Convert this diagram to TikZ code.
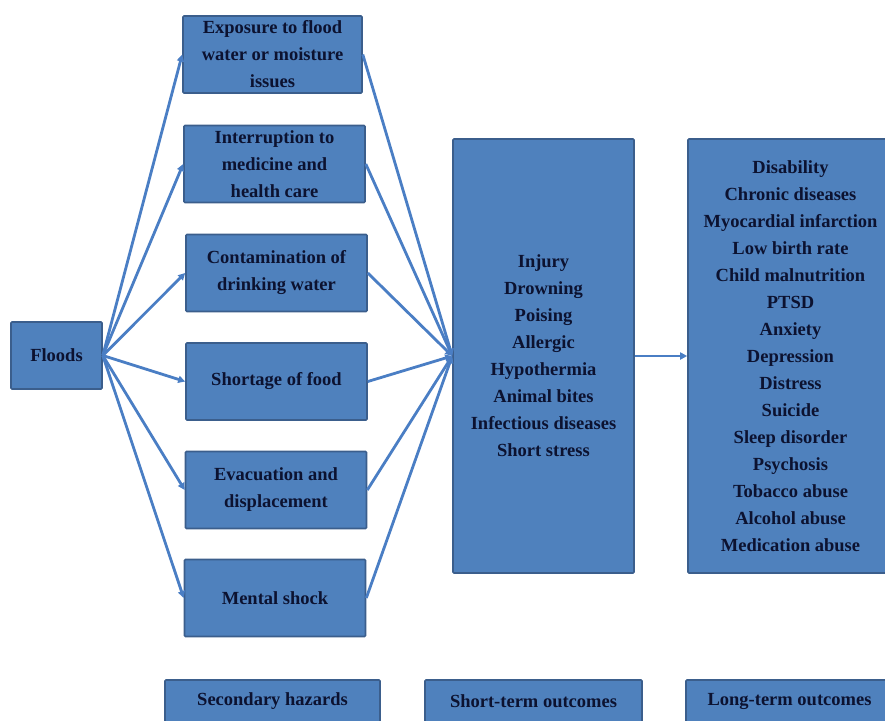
\documentclass[tikz,border=0pt]{standalone}
\usepackage{fontspec}
\setmainfont{Liberation Serif}
\usetikzlibrary{arrows.meta}
\definecolor{boxfill}{HTML}{4F81BD}
\definecolor{boxline}{HTML}{3B5E8C}
\definecolor{linkblue}{HTML}{4A7EC4}
\definecolor{inkblue}{HTML}{0C1230}
\begin{document}
\begin{tikzpicture}[
	x=1pt, y=-1pt,
	font=\fontsize{18.5}{27}\selectfont\bfseries,
	box/.style={
		draw=boxline,
		fill=boxfill,
		line width=1.6pt,
		rounded corners=1pt,
		inner sep=0pt,
		align=center,
		text=inkblue
	},
	hazard/.style={
		box,
		minimum width=181pt,
		minimum height=77pt
	},
	link/.style={
		draw=linkblue,
		line width=2.8pt,
		-{Triangle[length=7pt,width=7pt]}
	}
]
\path[use as bounding box, clip] (0,0) rectangle (885,720);

\node[box, minimum width=91pt, minimum height=67pt] (floods) at (56.5,355.5) {Floods};

\node[hazard, minimum width=179pt] (exposure) at (272.5,54.5) {Exposure to flood\\water or moisture\\issues};
\node[hazard] (interrupt) at (274.5,164) {Interruption to\\medicine and\\health care};
\node[hazard] (contam) at (276.5,273) {Contamination of\\drinking water};
\node[hazard] (shortage) at (276.5,381.5) {Shortage of food};
\node[hazard] (evac) at (276,490) {Evacuation and\\displacement};
\node[hazard] (mental) at (275,598) {Mental shock};

\node[box, minimum width=181pt, minimum height=434pt] (shortterm) at (543.5,356)
	{Injury\\Drowning\\Poising\\Allergic\\Hypothermia\\Animal bites\\Infectious diseases\\Short stress};
\node[box, minimum width=205pt, minimum height=434pt] (longterm) at (790.5,356)
	{Disability\\Chronic diseases\\Myocardial infarction\\Low birth rate\\Child malnutrition\\PTSD\\Anxiety\\Depression\\Distress\\Suicide\\Sleep disorder\\Psychosis\\Tobacco abuse\\Alcohol abuse\\Medication abuse};

\node[box, minimum width=215pt, minimum height=42pt] (seclabel) at (272.5,701) {Secondary hazards};
\node[box, minimum width=217pt, minimum height=42pt] (shortlabel) at (533.5,701) {Short-term outcomes};
\node[box, minimum width=207pt, minimum height=42pt] (longlabel) at (789.5,701) {Long-term outcomes};

\foreach \h in {exposure,interrupt,contam,shortage,evac,mental}{
	\draw[link] (floods.east) -- (\h.west);
	\draw[link] (\h.east) -- (shortterm.west);
}
\draw[link] (shortterm.east) -- (longterm.west);

\end{tikzpicture}
\end{document}
